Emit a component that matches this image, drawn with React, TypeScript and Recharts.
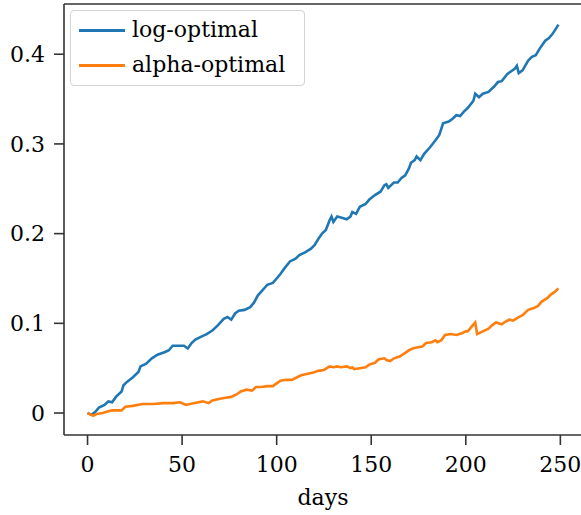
import { LineChart, Line, XAxis, YAxis, Legend, ReferenceLine } from 'recharts';

// values
const LOG_DAYS = [
  0, 2, 4, 6, 9, 11, 13, 15, 18, 19, 21, 24, 27, 28, 31, 34, 37, 41, 43, 45, 49, 51, 53, 55, 57, 61, 63, 66, 69,
  72, 74, 76, 78, 80, 83, 86, 88, 90, 93, 95, 98, 100, 102, 104, 107, 110, 112, 115, 118, 120, 122, 124, 126,
  128, 129, 130, 132, 134, 137, 139, 140, 142, 144, 147, 149, 152, 155, 157, 158, 159, 162, 164, 166, 168, 170,
  171, 173, 174, 176, 178, 181, 184, 186, 188, 191, 193, 195, 197, 199, 201, 204, 205, 207, 209, 212, 215, 217,
  219, 222, 224, 226, 227, 228, 230, 233, 235, 237, 239, 242, 244, 246, 249,
];
const LOG_VALUES = [
  0, -0.002, 0.001, 0.006, 0.009, 0.013, 0.012, 0.018, 0.024, 0.031, 0.035, 0.04, 0.046, 0.052, 0.055, 0.061,
  0.065, 0.068, 0.07, 0.075, 0.075, 0.075, 0.072, 0.078, 0.082, 0.086, 0.088, 0.092, 0.098, 0.105, 0.107, 0.104,
  0.111, 0.114, 0.115, 0.118, 0.123, 0.131, 0.138, 0.143, 0.145, 0.15, 0.155, 0.161, 0.169, 0.172, 0.176, 0.179,
  0.183, 0.187, 0.194, 0.2, 0.204, 0.215, 0.219, 0.213, 0.219, 0.218, 0.216, 0.219, 0.224, 0.222, 0.23, 0.233,
  0.238, 0.243, 0.247, 0.254, 0.255, 0.251, 0.257, 0.257, 0.262, 0.265, 0.273, 0.279, 0.282, 0.286, 0.282, 0.289,
  0.296, 0.304, 0.31, 0.323, 0.325, 0.328, 0.332, 0.331, 0.336, 0.34, 0.348, 0.356, 0.352, 0.356, 0.358, 0.364,
  0.369, 0.37, 0.378, 0.381, 0.384, 0.387, 0.379, 0.382, 0.393, 0.397, 0.399, 0.406, 0.415, 0.418, 0.423, 0.433,
];

const ALPHA_DAYS = [
  0, 1, 3, 5, 8, 11, 13, 16, 18, 20, 24, 29, 35, 40, 45, 49, 52, 56, 61, 64, 66, 70, 73, 76, 79, 81, 84, 87, 89,
  92, 95, 98, 100, 102, 105, 108, 110, 113, 117, 119, 122, 125, 128, 130, 132, 134, 137, 139, 140, 141, 144, 147,
  149, 152, 154, 157, 158, 160, 162, 165, 168, 170, 172, 174, 177, 179, 182, 184, 185, 187, 189, 192, 195, 198,
  200, 201, 203, 205, 206, 209, 212, 214, 216, 219, 221, 223, 225, 228, 230, 233, 236, 238, 240, 243, 245, 247, 249,
];
const ALPHA_VALUES = [
  0, -0.001, -0.003, -0.001, 0, 0.002, 0.003, 0.003, 0.003, 0.007, 0.008, 0.01, 0.01, 0.011, 0.011, 0.012, 0.009,
  0.011, 0.013, 0.011, 0.014, 0.016, 0.017, 0.018, 0.021, 0.024, 0.026, 0.025, 0.029, 0.029, 0.03, 0.03, 0.033,
  0.036, 0.037, 0.037, 0.039, 0.042, 0.044, 0.045, 0.047, 0.048, 0.052, 0.051, 0.052, 0.051, 0.052, 0.05, 0.051,
  0.049, 0.05, 0.051, 0.054, 0.056, 0.06, 0.061, 0.059, 0.058, 0.061, 0.063, 0.067, 0.07, 0.072, 0.073, 0.074,
  0.078, 0.079, 0.081, 0.079, 0.081, 0.087, 0.088, 0.087, 0.089, 0.091, 0.091, 0.096, 0.101, 0.088, 0.091, 0.094,
  0.098, 0.101, 0.099, 0.102, 0.104, 0.103, 0.107, 0.109, 0.115, 0.117, 0.119, 0.124, 0.128, 0.132, 0.135, 0.139,
];

const SERIES_ORDER = ['log', 'alpha'];

const X_TICKS = [0, 50, 100, 150, 200, 250];
const Y_TICKS = [0, 0.1, 0.2, 0.3, 0.4];

const X_DOMAIN: [number, number] = [-12.45, 261.45];
const Y_DOMAIN: [number, number] = [-0.0245, 0.456];

const FONT = 'DejaVu Serif';
const FONT_SIZE = 22;
const SPINE = '#333';

// merge both series into one table keyed by day
const byDay = new Map<number, { day: number; log?: number; alpha?: number }>();
LOG_DAYS.forEach((d, i) => {
  byDay.set(d, { ...(byDay.get(d) || { day: d }), log: LOG_VALUES[i] });
});
ALPHA_DAYS.forEach((d, i) => {
  byDay.set(d, { ...(byDay.get(d) || { day: d }), alpha: ALPHA_VALUES[i] });
});
const data = Array.from(byDay.values()).sort((a, b) => a.day - b.day);

function LegendBox({ payload }: any) {
  const items = [...(payload || [])].sort(
    (a: any, b: any) => SERIES_ORDER.indexOf(a.dataKey) - SERIES_ORDER.indexOf(b.dataKey)
  );
  return (
    <div
      style={{
        width: 235,
        height: 76,
        boxSizing: 'border-box',
        border: '1.5px solid #d4d4d4',
        borderRadius: 4,
        background: 'rgba(255,255,255,0.85)',
        position: 'relative',
        fontFamily: FONT,
        fontSize: FONT_SIZE,
        color: '#000',
      }}
    >
      {items.map((entry: any, i: number) => (
        <div key={entry.value} style={{ position: 'absolute', left: 0, top: 3 + i * 35, height: 32, width: '100%' }}>
          <div style={{ position: 'absolute', left: 8, top: 15, width: 46, height: 2.6, background: entry.color }} />
          <div style={{ position: 'absolute', left: 61, top: 1, lineHeight: '30px', whiteSpace: 'nowrap' }}>{entry.value}</div>
        </div>
      ))}
    </div>
  );
}

export default function App() {
  const tickStyle = { fontFamily: FONT, fontSize: FONT_SIZE, fill: '#000' };
  return (
    <div style={{ position: 'absolute', left: 0, top: 0, width: 581, height: 515, overflow: 'hidden', background: '#fff' }}>
      <LineChart width={600} height={515} data={data} margin={{ top: 4, right: 18, bottom: 0, left: 0 }}>
        <XAxis
          dataKey="day"
          type="number"
          domain={X_DOMAIN}
          ticks={X_TICKS}
          allowDataOverflow
          height={80}
          stroke={SPINE}
          strokeWidth={1.6}
          tickSize={10}
          tickMargin={11}
          tick={tickStyle}
          label={{ value: 'days', position: 'insideBottom', offset: 10, style: tickStyle }}
        />
        <YAxis
          type="number"
          domain={Y_DOMAIN}
          ticks={Y_TICKS}
          allowDataOverflow
          width={64}
          stroke={SPINE}
          strokeWidth={1.6}
          tickSize={10}
          tickMargin={9}
          tick={tickStyle}
        />
        <ReferenceLine y={Y_DOMAIN[1]} stroke={SPINE} strokeWidth={1.6} />
        <ReferenceLine x={X_DOMAIN[1]} stroke={SPINE} strokeWidth={1.6} />
        <Line dataKey="log" name="log-optimal" stroke="#1f77b4" strokeWidth={2.6} dot={false} connectNulls isAnimationActive={false} />
        <Line dataKey="alpha" name="alpha-optimal" stroke="#ff7f0e" strokeWidth={2.6} dot={false} connectNulls isAnimationActive={false} />
        <Legend
          layout="horizontal"
          verticalAlign="middle"
          align="center"
          content={<LegendBox />}
          wrapperStyle={{ left: 70, top: 10, width: 'auto' }}
        />
      </LineChart>
    </div>
  );
}
